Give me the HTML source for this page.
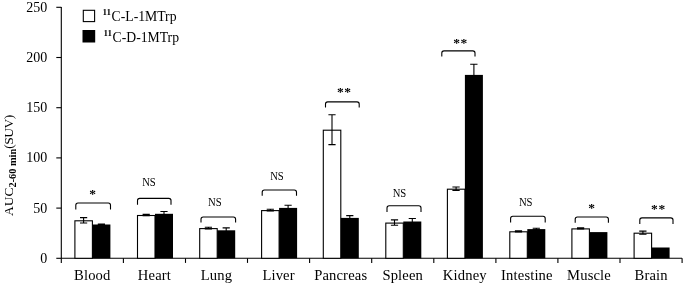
<!DOCTYPE html><html><head><meta charset="utf-8"><title>chart</title><style>html,body{margin:0;padding:0;background:#fff}</style></head><body><svg width="685" height="285" viewBox="0 0 685 285" style="display:block">
<rect width="685" height="285" fill="#fff"/>
<g font-family="'Liberation Serif', serif" fill="#000">
<path d="M61.3 7.0V258.3H682.1" fill="none" stroke="#000" stroke-width="1.1"/>
<path d="M56.3 258.3H61.3" stroke="#000" stroke-width="1.1"/>
<text x="47.3" y="262.7" font-size="14" text-anchor="end">0</text>
<path d="M56.3 208.1H61.3" stroke="#000" stroke-width="1.1"/>
<text x="47.3" y="212.5" font-size="14" text-anchor="end">50</text>
<path d="M56.3 157.9H61.3" stroke="#000" stroke-width="1.1"/>
<text x="47.3" y="162.3" font-size="14" text-anchor="end">100</text>
<path d="M56.3 107.7H61.3" stroke="#000" stroke-width="1.1"/>
<text x="47.3" y="112.1" font-size="14" text-anchor="end">150</text>
<path d="M56.3 57.5H61.3" stroke="#000" stroke-width="1.1"/>
<text x="47.3" y="61.9" font-size="14" text-anchor="end">200</text>
<path d="M56.3 7.3H61.3" stroke="#000" stroke-width="1.1"/>
<text x="47.3" y="11.7" font-size="14" text-anchor="end">250</text>
<path d="M61.3 258.3V262.9" stroke="#000" stroke-width="1.1"/>
<path d="M123.4 258.3V262.9" stroke="#000" stroke-width="1.1"/>
<path d="M185.5 258.3V262.9" stroke="#000" stroke-width="1.1"/>
<path d="M247.5 258.3V262.9" stroke="#000" stroke-width="1.1"/>
<path d="M309.6 258.3V262.9" stroke="#000" stroke-width="1.1"/>
<path d="M371.7 258.3V262.9" stroke="#000" stroke-width="1.1"/>
<path d="M433.8 258.3V262.9" stroke="#000" stroke-width="1.1"/>
<path d="M495.9 258.3V262.9" stroke="#000" stroke-width="1.1"/>
<path d="M557.9 258.3V262.9" stroke="#000" stroke-width="1.1"/>
<path d="M620.0 258.3V262.9" stroke="#000" stroke-width="1.1"/>
<path d="M682.1 258.3V262.9" stroke="#000" stroke-width="1.1"/>
<text x="92.3" y="279.6" font-size="14.6" letter-spacing="0.15" text-anchor="middle">Blood</text>
<rect x="74.9" y="220.8" width="17.5" height="37.5" fill="#fff" stroke="#000" stroke-width="1.1"/>
<rect x="92.4" y="224.5" width="18.0" height="33.8" fill="#000"/>
<path d="M83.6 217.6V223.0M80.0 217.6H87.2M80.0 223.0H87.2" stroke="#000" stroke-width="1.1" fill="none"/>
<path d="M101.4 224.0V225.0M97.8 224.0H105.0M97.8 225.0H105.0" stroke="#000" stroke-width="1.1" fill="none"/>
<path d="M75.8 209.6V205.2Q75.8 203.0 78.0 203.0H108.3Q110.5 203.0 110.5 205.2V209.6" fill="none" stroke="#000" stroke-width="1.1"/>
<text x="93.0" y="197.6" font-size="13.5" font-weight="bold" letter-spacing="0.6" text-anchor="middle">*</text>
<text x="154.4" y="279.6" font-size="14.6" letter-spacing="0.15" text-anchor="middle">Heart</text>
<rect x="137.5" y="215.5" width="17.5" height="42.8" fill="#fff" stroke="#000" stroke-width="1.1"/>
<rect x="155.0" y="213.8" width="18.0" height="44.5" fill="#000"/>
<path d="M146.2 214.4V215.6M142.6 214.4H149.8M142.6 215.6H149.8" stroke="#000" stroke-width="1.1" fill="none"/>
<path d="M164.0 211.5V216.1M160.4 211.5H167.6M160.4 216.1H167.6" stroke="#000" stroke-width="1.1" fill="none"/>
<path d="M137.5 204.7V200.6Q137.5 198.4 139.7 198.4H168.8Q171.0 198.4 171.0 200.6V204.7" fill="none" stroke="#000" stroke-width="1.1"/>
<text x="149.0" y="185.8" font-size="12.4" text-anchor="middle" textLength="13.6" lengthAdjust="spacingAndGlyphs">NS</text>
<text x="216.5" y="279.6" font-size="14.6" letter-spacing="0.15" text-anchor="middle">Lung</text>
<rect x="199.7" y="228.6" width="17.5" height="29.7" fill="#fff" stroke="#000" stroke-width="1.1"/>
<rect x="217.2" y="230.3" width="18.0" height="28.0" fill="#000"/>
<path d="M208.4 227.3V228.9M204.8 227.3H212.0M204.8 228.9H212.0" stroke="#000" stroke-width="1.1" fill="none"/>
<path d="M226.2 227.9V232.7M222.6 227.9H229.8M222.6 232.7H229.8" stroke="#000" stroke-width="1.1" fill="none"/>
<path d="M201.0 222.6V219.2Q201.0 217.0 203.2 217.0H233.4Q235.6 217.0 235.6 219.2V222.6" fill="none" stroke="#000" stroke-width="1.1"/>
<text x="214.8" y="205.8" font-size="12.4" text-anchor="middle" textLength="13.6" lengthAdjust="spacingAndGlyphs">NS</text>
<text x="278.6" y="279.6" font-size="14.6" letter-spacing="0.15" text-anchor="middle">Liver</text>
<rect x="261.6" y="210.6" width="17.5" height="47.7" fill="#fff" stroke="#000" stroke-width="1.1"/>
<rect x="279.1" y="207.9" width="18.0" height="50.4" fill="#000"/>
<path d="M270.3 209.3V210.9M266.7 209.3H273.9M266.7 210.9H273.9" stroke="#000" stroke-width="1.1" fill="none"/>
<path d="M288.1 205.2V210.6M284.5 205.2H291.7M284.5 210.6H291.7" stroke="#000" stroke-width="1.1" fill="none"/>
<path d="M262.2 195.8V192.2Q262.2 190.0 264.4 190.0H294.3Q296.5 190.0 296.5 192.2V195.8" fill="none" stroke="#000" stroke-width="1.1"/>
<text x="277.0" y="179.7" font-size="12.4" text-anchor="middle" textLength="13.6" lengthAdjust="spacingAndGlyphs">NS</text>
<text x="340.7" y="279.6" font-size="14.6" letter-spacing="0.15" text-anchor="middle">Pancreas</text>
<rect x="323.3" y="130.2" width="17.5" height="128.1" fill="#fff" stroke="#000" stroke-width="1.1"/>
<rect x="340.8" y="217.9" width="18.0" height="40.4" fill="#000"/>
<path d="M332.0 114.8V144.6M328.4 114.8H335.6M328.4 144.6H335.6" stroke="#000" stroke-width="1.1" fill="none"/>
<path d="M349.8 215.6V220.2M346.2 215.6H353.4M346.2 220.2H353.4" stroke="#000" stroke-width="1.1" fill="none"/>
<path d="M325.5 107.6V104.1Q325.5 101.9 327.7 101.9H357.0Q359.2 101.9 359.2 104.1V107.6" fill="none" stroke="#000" stroke-width="1.1"/>
<text x="344.3" y="96.0" font-size="13.5" font-weight="bold" letter-spacing="0.6" text-anchor="middle">**</text>
<text x="402.7" y="279.6" font-size="14.6" letter-spacing="0.15" text-anchor="middle">Spleen</text>
<rect x="385.8" y="223.1" width="17.5" height="35.2" fill="#fff" stroke="#000" stroke-width="1.1"/>
<rect x="403.3" y="221.5" width="18.0" height="36.8" fill="#000"/>
<path d="M394.5 219.9V225.3M390.9 219.9H398.1M390.9 225.3H398.1" stroke="#000" stroke-width="1.1" fill="none"/>
<path d="M412.3 218.5V224.5M408.7 218.5H415.9M408.7 224.5H415.9" stroke="#000" stroke-width="1.1" fill="none"/>
<path d="M387.0 212.1V207.9Q387.0 205.7 389.2 205.7H418.8Q421.0 205.7 421.0 207.9V212.1" fill="none" stroke="#000" stroke-width="1.1"/>
<text x="399.5" y="197.2" font-size="12.4" text-anchor="middle" textLength="13.6" lengthAdjust="spacingAndGlyphs">NS</text>
<text x="464.8" y="279.6" font-size="14.6" letter-spacing="0.15" text-anchor="middle">Kidney</text>
<rect x="447.4" y="189.2" width="17.5" height="69.1" fill="#fff" stroke="#000" stroke-width="1.1"/>
<rect x="464.9" y="74.9" width="18.0" height="183.4" fill="#000"/>
<path d="M456.1 187.0V190.4M452.4 187.0H459.7M452.4 190.4H459.7" stroke="#000" stroke-width="1.1" fill="none"/>
<path d="M473.9 64.3V85.5M470.2 64.3H477.5M470.2 85.5H477.5" stroke="#000" stroke-width="1.1" fill="none"/>
<path d="M441.8 56.6V53.1Q441.8 50.9 444.0 50.9H472.8Q475.0 50.9 475.0 53.1V56.6" fill="none" stroke="#000" stroke-width="1.1"/>
<text x="460.6" y="46.7" font-size="13.5" font-weight="bold" letter-spacing="0.6" text-anchor="middle">**</text>
<text x="526.9" y="279.6" font-size="14.6" letter-spacing="0.15" text-anchor="middle">Intestine</text>
<rect x="509.8" y="231.8" width="17.5" height="26.5" fill="#fff" stroke="#000" stroke-width="1.1"/>
<rect x="527.3" y="229.1" width="18.0" height="29.2" fill="#000"/>
<path d="M518.5 230.7V231.9M514.9 230.7H522.1M514.9 231.9H522.1" stroke="#000" stroke-width="1.1" fill="none"/>
<path d="M536.3 228.3V229.9M532.7 228.3H539.9M532.7 229.9H539.9" stroke="#000" stroke-width="1.1" fill="none"/>
<path d="M510.6 222.5V218.5Q510.6 216.3 512.8 216.3H543.0Q545.2 216.3 545.2 218.5V222.5" fill="none" stroke="#000" stroke-width="1.1"/>
<text x="525.7" y="205.7" font-size="12.4" text-anchor="middle" textLength="13.6" lengthAdjust="spacingAndGlyphs">NS</text>
<text x="589.0" y="279.6" font-size="14.6" letter-spacing="0.15" text-anchor="middle">Muscle</text>
<rect x="571.9" y="228.9" width="17.5" height="29.4" fill="#fff" stroke="#000" stroke-width="1.1"/>
<rect x="589.4" y="232.1" width="18.0" height="26.2" fill="#000"/>
<path d="M580.6 227.9V228.9M577.0 227.9H584.2M577.0 228.9H584.2" stroke="#000" stroke-width="1.1" fill="none"/>
<path d="M575.2 222.8V219.2Q575.2 217.0 577.4 217.0H606.2Q608.4 217.0 608.4 219.2V222.8" fill="none" stroke="#000" stroke-width="1.1"/>
<text x="591.9" y="211.9" font-size="13.5" font-weight="bold" letter-spacing="0.6" text-anchor="middle">*</text>
<text x="651.1" y="279.6" font-size="14.6" letter-spacing="0.15" text-anchor="middle">Brain</text>
<rect x="634.1" y="233.2" width="17.5" height="25.1" fill="#fff" stroke="#000" stroke-width="1.1"/>
<rect x="651.6" y="247.5" width="18.0" height="10.8" fill="#000"/>
<path d="M642.9 231.1V234.3M639.2 231.1H646.5M639.2 234.3H646.5" stroke="#000" stroke-width="1.1" fill="none"/>
<path d="M639.8 224.1V220.1Q639.8 217.9 642.0 217.9H670.8Q673.0 217.9 673.0 220.1V224.1" fill="none" stroke="#000" stroke-width="1.1"/>
<text x="658.4" y="212.8" font-size="13.5" font-weight="bold" letter-spacing="0.6" text-anchor="middle">**</text>
<rect x="83.3" y="10.3" width="11.3" height="11.3" fill="#fff" stroke="#000" stroke-width="1.1"/>
<rect x="82.5" y="30" width="12.7" height="12.5" fill="#000"/>
<text x="102.4" y="21.2" font-size="13.7"><tspan font-size="9" font-weight="bold" dy="-6.6">11</tspan><tspan x="111.6" dy="6.6">C-L-1MTrp</tspan></text>
<text x="103.6" y="42.1" font-size="13.7"><tspan font-size="9" font-weight="bold" dy="-6.6">11</tspan><tspan x="112.6" dy="6.6">C-D-1MTrp</tspan></text>
<text transform="translate(13.2,216) rotate(-90)" font-size="13.5">AUC<tspan font-size="10.3" font-weight="bold" dy="3.1">2-60 min</tspan><tspan dy="-3.1" letter-spacing="-0.5">(SUV)</tspan></text>
</g></svg></body></html>
